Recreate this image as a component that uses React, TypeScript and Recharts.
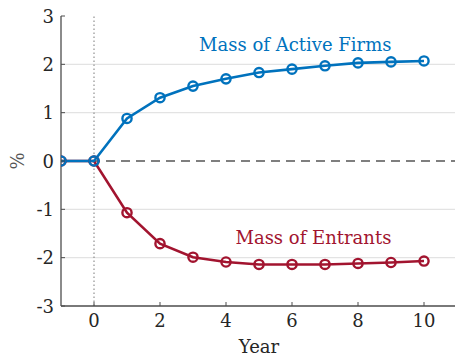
import React from 'react';
import { LineChart, Line, XAxis, YAxis, ReferenceLine, ReferenceDot } from 'recharts';

const years = [-1, 0, 1, 2, 3, 4, 5, 6, 7, 8, 9, 10];
const activeFirms = [0, 0, 0.88, 1.31, 1.55, 1.70, 1.83, 1.90, 1.97, 2.03, 2.05, 2.07];
const entrants = [0, 0, -1.07, -1.71, -1.99, -2.09, -2.14, -2.14, -2.14, -2.12, -2.10, -2.07];
const xTicks = [0, 2, 4, 6, 8, 10];
const yTicks = [-3, -2, -1, 0, 1, 2, 3];
const gridValues = [-2, -1, 1, 2];
const seriesNames = ['Mass of Active Firms', 'Mass of Entrants'];
const annotationX = [6.1, 6.65];
const annotationY = [2.27, -1.72];

const data = years.map((y, i) => ({ year: y, active: activeFirms[i], entrants: entrants[i] }));

const FONT = "'DejaVu Serif', serif";
const AXIS = '#4d4d4d';
const TEXT = '#262626';
const BLUE = '#0072BD';
const RED = '#A2142F';
const FS = 18;

const BottomTick = (props: any) => {
  const { x, y, payload } = props;
  return (
    <g>
      <line x1={x} y1={y} x2={x} y2={y - 4} stroke={AXIS} strokeWidth={1} />
      <text x={x} y={y + 21} textAnchor="middle" fill={TEXT} style={{ fontFamily: FONT, fontSize: FS }}>
        {payload.value}
      </text>
    </g>
  );
};

const TopTick = (props: any) => {
  const { x, y } = props;
  return <line x1={x} y1={y} x2={x} y2={y + 4} stroke={AXIS} strokeWidth={1} />;
};

const LeftTick = (props: any) => {
  const { x, y, payload } = props;
  return (
    <g>
      <line x1={x} y1={y} x2={x + 4} y2={y} stroke={AXIS} strokeWidth={1} />
      <text x={x - 7} y={y + 6.5} textAnchor="end" fill={TEXT} style={{ fontFamily: FONT, fontSize: FS }}>
        {payload.value}
      </text>
    </g>
  );
};

const Annot = (color: string, text: string) => (props: any) => {
  const { viewBox } = props;
  const cx = viewBox.x + (viewBox.width || 0) / 2;
  const cy = viewBox.y + (viewBox.height || 0) / 2;
  return (
    <text x={cx} y={cy} textAnchor="middle" fill={color} style={{ fontFamily: FONT, fontSize: FS }}>
      {text}
    </text>
  );
};

export default function App() {
  return (
    <div style={{ position: 'absolute', left: 0, top: 0, width: 455, height: 357, overflow: 'hidden', background: '#fff' }}>
      <LineChart width={470} height={357} data={data} margin={{ top: 16, right: 13, left: 0, bottom: 0 }}>
        <XAxis
          dataKey="year"
          type="number"
          domain={[-1, 11]}
          ticks={xTicks}
          interval={0}
          allowDataOverflow
          height={51}
          tickSize={0}
          tickMargin={0}
          tickLine={false}
          axisLine={{ stroke: AXIS, strokeWidth: 1.3 }}
          tick={<BottomTick />}
          label={{
            content: (p: any) => (
              <text x={p.viewBox.x + 198} y={p.viewBox.y + 47} textAnchor="middle" fill={TEXT} style={{ fontFamily: FONT, fontSize: FS }}>
                Year
              </text>
            ),
          }}
        />
        <XAxis
          xAxisId="top"
          orientation="top"
          dataKey="year"
          type="number"
          domain={[-1, 11]}
          ticks={xTicks}
          interval={0}
          height={0}
          tickSize={0}
          tickMargin={0}
          tickLine={false}
          axisLine={{ stroke: AXIS, strokeWidth: 1.3 }}
          tick={<TopTick />}
        />
        <YAxis
          type="number"
          domain={[-3, 3]}
          ticks={yTicks}
          interval={0}
          width={61}
          tickSize={0}
          tickMargin={0}
          tickLine={false}
          axisLine={{ stroke: AXIS, strokeWidth: 1.3 }}
          tick={<LeftTick />}
          label={{
            content: (p: any) => {
              const cx = p.viewBox.x + 17;
              const cy = p.viewBox.y + p.viewBox.height / 2;
              return (
                <text x={cx} y={cy} transform={`rotate(-90 ${cx} ${cy})`} textAnchor="middle" dominantBaseline="central" fill="#555" style={{ fontFamily: FONT, fontSize: FS }}>
                  %
                </text>
              );
            },
          }}
        />
        {gridValues.map((v) => (
          <ReferenceLine key={v} y={v} stroke="#e3e3e3" strokeWidth={1.2} />
        ))}
        <ReferenceLine x={0} stroke="#7a7a7a" strokeWidth={1} strokeDasharray="1.5 2.5" />
        <ReferenceLine y={0} stroke="#555" strokeWidth={1.5} strokeDasharray="9 6" />
        <Line
          dataKey="entrants"
          stroke={RED}
          strokeWidth={2.6}
          isAnimationActive={false}
          dot={{ r: 4.6, stroke: RED, strokeWidth: 2.4, fill: 'none' }}
        />
        <Line
          dataKey="active"
          stroke={BLUE}
          strokeWidth={2.6}
          isAnimationActive={false}
          dot={{ r: 4.6, stroke: BLUE, strokeWidth: 2.4, fill: 'none' }}
        />
        <ReferenceDot x={annotationX[0]} y={annotationY[0]} r={0} stroke="none" fill="none" label={{ content: Annot(BLUE, seriesNames[0]) }} />
        <ReferenceDot x={annotationX[1]} y={annotationY[1]} r={0} stroke="none" fill="none" label={{ content: Annot(RED, seriesNames[1]) }} />
      </LineChart>
    </div>
  );
}
